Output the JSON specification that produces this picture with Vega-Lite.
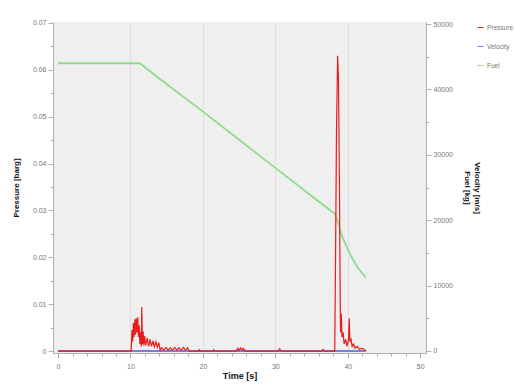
{
  "$schema": "https://vega.github.io/schema/vega-lite/v6.json",
  "width": 373,
  "height": 331,
  "autosize": {"type": "none"},
  "padding": {"left": 53, "top": 22, "right": 89, "bottom": 32},
  "background": "white",
  "config": {
    "view": {"fill": "#efefef", "stroke": null},
    "font": "Liberation Sans",
    "axis": {
      "labelColor": "#777777",
      "labelFontSize": 7,
      "labelFont": "Liberation Sans",
      "titleColor": "#111111",
      "titleFont": "Liberation Sans",
      "titleFontWeight": "bold",
      "titleFontSize": 9,
      "domainColor": "#b0b0b0",
      "tickColor": "#b0b0b0",
      "gridColor": "#dedede",
      "gridWidth": 1
    }
  },
  "data": {
    "values": [
      {"series": "Pressure", "t": 0, "value": 0},
      {"series": "Pressure", "t": 5, "value": 0},
      {"series": "Pressure", "t": 10.1, "value": 0},
      {"series": "Pressure", "t": 10.2, "value": 0.0045},
      {"series": "Pressure", "t": 10.3, "value": 0.002},
      {"series": "Pressure", "t": 10.4, "value": 0.006},
      {"series": "Pressure", "t": 10.5, "value": 0.003},
      {"series": "Pressure", "t": 10.6, "value": 0.0068},
      {"series": "Pressure", "t": 10.7, "value": 0.0035},
      {"series": "Pressure", "t": 10.8, "value": 0.007},
      {"series": "Pressure", "t": 10.9, "value": 0.004},
      {"series": "Pressure", "t": 11.0, "value": 0.0072},
      {"series": "Pressure", "t": 11.1, "value": 0.003},
      {"series": "Pressure", "t": 11.2, "value": 0.0055},
      {"series": "Pressure", "t": 11.3, "value": 0.0015},
      {"series": "Pressure", "t": 11.4, "value": 0.004},
      {"series": "Pressure", "t": 11.5, "value": 0.001},
      {"series": "Pressure", "t": 11.55, "value": 0.0094},
      {"series": "Pressure", "t": 11.65, "value": 0.0015},
      {"series": "Pressure", "t": 11.75, "value": 0.0042},
      {"series": "Pressure", "t": 11.85, "value": 0.0012},
      {"series": "Pressure", "t": 11.95, "value": 0.0032},
      {"series": "Pressure", "t": 12.1, "value": 0.0012},
      {"series": "Pressure", "t": 12.3, "value": 0.0028},
      {"series": "Pressure", "t": 12.5, "value": 0.001},
      {"series": "Pressure", "t": 12.7, "value": 0.0025},
      {"series": "Pressure", "t": 12.9, "value": 0.001},
      {"series": "Pressure", "t": 13.1, "value": 0.0022},
      {"series": "Pressure", "t": 13.3, "value": 0.0009},
      {"series": "Pressure", "t": 13.5, "value": 0.002},
      {"series": "Pressure", "t": 13.7, "value": 0.0008},
      {"series": "Pressure", "t": 13.9, "value": 0.0018},
      {"series": "Pressure", "t": 14.1, "value": 0.0002},
      {"series": "Pressure", "t": 14.3, "value": 0.0007},
      {"series": "Pressure", "t": 14.6, "value": 0.0002},
      {"series": "Pressure", "t": 14.9, "value": 0.0008},
      {"series": "Pressure", "t": 15.2, "value": 0.0002},
      {"series": "Pressure", "t": 15.5, "value": 0.0007},
      {"series": "Pressure", "t": 15.8, "value": 0.0002},
      {"series": "Pressure", "t": 16.1, "value": 0.0008},
      {"series": "Pressure", "t": 16.4, "value": 0.0002},
      {"series": "Pressure", "t": 16.7, "value": 0.0007},
      {"series": "Pressure", "t": 17.0, "value": 0.0002},
      {"series": "Pressure", "t": 17.3, "value": 0.0008},
      {"series": "Pressure", "t": 17.6, "value": 0.0002},
      {"series": "Pressure", "t": 17.9, "value": 0.0007},
      {"series": "Pressure", "t": 18.1, "value": 0},
      {"series": "Pressure", "t": 19.4, "value": 0},
      {"series": "Pressure", "t": 19.5, "value": 0.0003},
      {"series": "Pressure", "t": 19.6, "value": 0},
      {"series": "Pressure", "t": 21.4, "value": 0},
      {"series": "Pressure", "t": 21.5, "value": 0.0003},
      {"series": "Pressure", "t": 21.6, "value": 0},
      {"series": "Pressure", "t": 24.6, "value": 0},
      {"series": "Pressure", "t": 24.8, "value": 0.0006},
      {"series": "Pressure", "t": 25.0, "value": 0.0002},
      {"series": "Pressure", "t": 25.2, "value": 0.0007},
      {"series": "Pressure", "t": 25.4, "value": 0.0002},
      {"series": "Pressure", "t": 25.6, "value": 0.0006},
      {"series": "Pressure", "t": 25.8, "value": 0},
      {"series": "Pressure", "t": 30.4, "value": 0},
      {"series": "Pressure", "t": 30.6, "value": 0.0005},
      {"series": "Pressure", "t": 30.8, "value": 0},
      {"series": "Pressure", "t": 36.4, "value": 0},
      {"series": "Pressure", "t": 36.6, "value": 0.0004},
      {"series": "Pressure", "t": 36.8, "value": 0},
      {"series": "Pressure", "t": 38.2, "value": 0},
      {"series": "Pressure", "t": 38.3, "value": 0.018},
      {"series": "Pressure", "t": 38.45, "value": 0.048},
      {"series": "Pressure", "t": 38.6, "value": 0.063},
      {"series": "Pressure", "t": 38.72, "value": 0.058},
      {"series": "Pressure", "t": 38.85, "value": 0.035},
      {"series": "Pressure", "t": 38.95, "value": 0.012},
      {"series": "Pressure", "t": 39.0, "value": 0.004},
      {"series": "Pressure", "t": 39.1, "value": 0.008},
      {"series": "Pressure", "t": 39.2, "value": 0.003},
      {"series": "Pressure", "t": 39.35, "value": 0.004},
      {"series": "Pressure", "t": 39.5, "value": 0.0015},
      {"series": "Pressure", "t": 39.7, "value": 0.0025},
      {"series": "Pressure", "t": 39.9, "value": 0.001},
      {"series": "Pressure", "t": 40.1, "value": 0.0025},
      {"series": "Pressure", "t": 40.2, "value": 0.007},
      {"series": "Pressure", "t": 40.3, "value": 0.002},
      {"series": "Pressure", "t": 40.45, "value": 0.0025},
      {"series": "Pressure", "t": 40.6, "value": 0.001},
      {"series": "Pressure", "t": 40.8, "value": 0.0015},
      {"series": "Pressure", "t": 41.0, "value": 0.0006},
      {"series": "Pressure", "t": 41.3, "value": 0.001},
      {"series": "Pressure", "t": 41.6, "value": 0.0004},
      {"series": "Pressure", "t": 42.0, "value": 0.0006},
      {"series": "Pressure", "t": 42.4, "value": 0.0002},
      {"series": "Pressure", "t": 42.5, "value": 0},
      {"series": "Velocity", "t": 0, "value": 0},
      {"series": "Velocity", "t": 42.5, "value": 0},
      {"series": "Fuel", "t": 0, "value": 44000},
      {"series": "Fuel", "t": 5, "value": 44000},
      {"series": "Fuel", "t": 11.3, "value": 44000},
      {"series": "Fuel", "t": 13.7, "value": 41900},
      {"series": "Fuel", "t": 16.2, "value": 39800},
      {"series": "Fuel", "t": 20, "value": 36600},
      {"series": "Fuel", "t": 25, "value": 32300},
      {"series": "Fuel", "t": 30, "value": 28000},
      {"series": "Fuel", "t": 35, "value": 23700},
      {"series": "Fuel", "t": 38.2, "value": 21000},
      {"series": "Fuel", "t": 38.7, "value": 19500},
      {"series": "Fuel", "t": 39.2, "value": 17600},
      {"series": "Fuel", "t": 39.7, "value": 16300},
      {"series": "Fuel", "t": 40.5, "value": 14400},
      {"series": "Fuel", "t": 41.4, "value": 12700},
      {"series": "Fuel", "t": 42.5, "value": 11200}
    ]
  },
  "encoding": {
    "x": {
      "field": "t",
      "type": "quantitative",
      "scale": {"domain": [-0.7, 50.8], "nice": false, "zero": false},
      "axis": {
        "title": "Time [s]",
        "values": [0, 2, 4, 6, 8, 10, 12, 14, 16, 18, 20, 22, 24, 26, 28, 30, 32, 34, 36, 38, 40, 42, 44, 46, 48, 50],
        "labelExpr": "datum.value % 10 === 0 ? datum.label : ''",
        "tickSize": {"condition": {"test": "datum.value % 10 === 0", "value": 5}, "value": 3},
        "gridOpacity": {"condition": {"test": "datum.value % 10 === 0 && datum.value > 0 && datum.value < 50", "value": 1}, "value": 0},
        "labelPadding": 4,
        "titlePadding": 2
      }
    },
    "color": {
      "field": "series",
      "type": "nominal",
      "scale": {
        "domain": ["Pressure", "Velocity", "Fuel"],
        "range": ["#e81c1c", "#7b7be6", "#8edc8e"]
      },
      "legend": {
        "title": null,
        "orient": "none",
        "legendX": 424,
        "legendY": 2,
        "symbolType": "stroke",
        "symbolSize": 36,
        "symbolStrokeWidth": 1,
        "labelFontSize": 6.5,
        "labelColor": "#777777",
        "rowPadding": 12,
        "labelOffset": 3
      }
    }
  },
  "layer": [
    {
      "transform": [{"filter": "datum.series === 'Fuel' || datum.series === 'Velocity'"}],
      "mark": {"type": "line", "strokeWidth": 1.8, "clip": true},
      "encoding": {
        "y": {
          "field": "value",
          "type": "quantitative",
          "scale": {"domain": [-306, 50306], "nice": false, "zero": false},
          "axis": {
            "orient": "right",
            "title": ["Velocity [m/s]", "Fuel [kg]"],
            "titleAngle": 90,
            "titleFontSize": 8,
            "titlePadding": 10,
            "values": [0, 5000, 10000, 15000, 20000, 25000, 30000, 35000, 40000, 45000, 50000],
            "labelExpr": "datum.value % 10000 === 0 ? format(datum.value, 'd') : ''",
            "tickSize": {"condition": {"test": "datum.value % 10000 === 0", "value": 5}, "value": 3},
            "grid": false
          }
        }
      }
    },
    {
      "transform": [{"filter": "datum.series === 'Pressure'"}],
      "mark": {"type": "line", "strokeWidth": 1.2, "clip": true},
      "encoding": {
        "y": {
          "field": "value",
          "type": "quantitative",
          "scale": {"domain": [-0.0004, 0.0702], "nice": false, "zero": false},
          "axis": {
            "orient": "left",
            "title": "Pressure [barg]",
            "titleFontSize": 8,
            "titlePadding": 12,
            "values": [0, 0.005, 0.01, 0.015, 0.02, 0.025, 0.03, 0.035, 0.04, 0.045, 0.05, 0.055, 0.06, 0.065, 0.07],
            "labelExpr": "round(datum.value * 1000) % 10 === 0 ? (datum.value === 0 ? '0' : format(datum.value, '.2f')) : ''",
            "tickSize": {"condition": {"test": "round(datum.value * 1000) % 10 === 0", "value": 5}, "value": 3},
            "gridOpacity": {"condition": {"test": "round(datum.value * 1000) % 10 === 0", "value": 1}, "value": 0}
          }
        }
      }
    }
  ],
  "resolve": {"scale": {"y": "independent"}}
}
